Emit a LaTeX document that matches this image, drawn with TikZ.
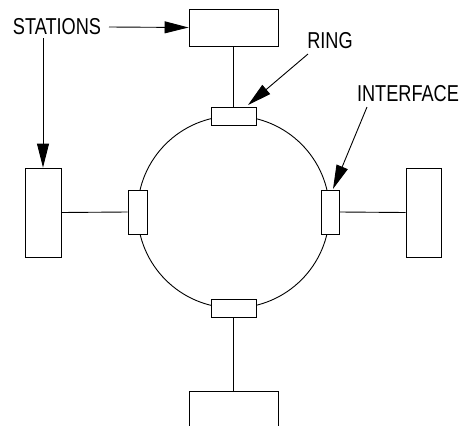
\documentclass[tikz,border=0pt]{standalone}
\usepackage{fontspec}
\newfontfamily\narrowfont[FakeStretch=0.79]{Liberation Sans}
\usetikzlibrary{arrows.meta}
\begin{document}
\begin{tikzpicture}[x=1pt,y=-1pt,
  line width=0.9pt,
  stationbox/.style={draw,rectangle,inner sep=0pt,fill=white},
  ifbox/.style={draw,rectangle,inner sep=0pt,fill=white},
  lbl/.style={inner sep=0pt,anchor=base,font=\narrowfont\fontsize{23}{26}\selectfont},
  pointer/.style={-{Triangle[length=24pt,width=12pt]}}]
\useasboundingbox (0,0) rectangle (467,426);
\draw (233.5,212) circle[radius=96];
% stations
\node[stationbox,minimum width=89pt,minimum height=37pt] (topst) at (233.5,27.5) {};
\node[stationbox,minimum width=36pt,minimum height=89pt] (leftst) at (43,212.5) {};
\node[stationbox,minimum width=35pt,minimum height=89pt] (rightst) at (423.5,212.5) {};
\node[stationbox,minimum width=89pt,minimum height=36pt] (botst) at (233.5,409) {};
% interfaces
\node[ifbox,minimum width=45pt,minimum height=18pt] (topif) at (233.5,116) {};
\node[ifbox,minimum width=45pt,minimum height=18pt] (botif) at (233.5,308) {};
\node[ifbox,minimum width=19pt,minimum height=44pt] (leftif) at (137.5,212) {};
\node[ifbox,minimum width=18pt,minimum height=44pt] (rightif) at (330,212) {};
% links
\draw (topst.south) -- (topif.north);
\draw (botif.south) -- (botst.north);
\draw (leftst.east) -- (leftif.west);
\draw (rightif.east) -- (rightst.west);
% labels
\node[lbl] (stations) at (57,34) {STATIONS};
\node[lbl] (ring) at (330,48) {RING};
\node[lbl] (interface) at (408,101) {INTERFACE};
\coordinate (s1) at (109,27);
\coordinate (s2) at (43,38);
\coordinate (r1) at (308,54);
\coordinate (r2) at (248,105);
\coordinate (i1) at (367,107);
\coordinate (i2) at (333,189);
\draw[pointer] (s1) -- (topst.west);
\draw[pointer] (s2) -- (leftst.north);
\draw[pointer] (r1) -- (r2);
\draw[pointer] (i1) -- (i2);
\end{tikzpicture}
\end{document}
